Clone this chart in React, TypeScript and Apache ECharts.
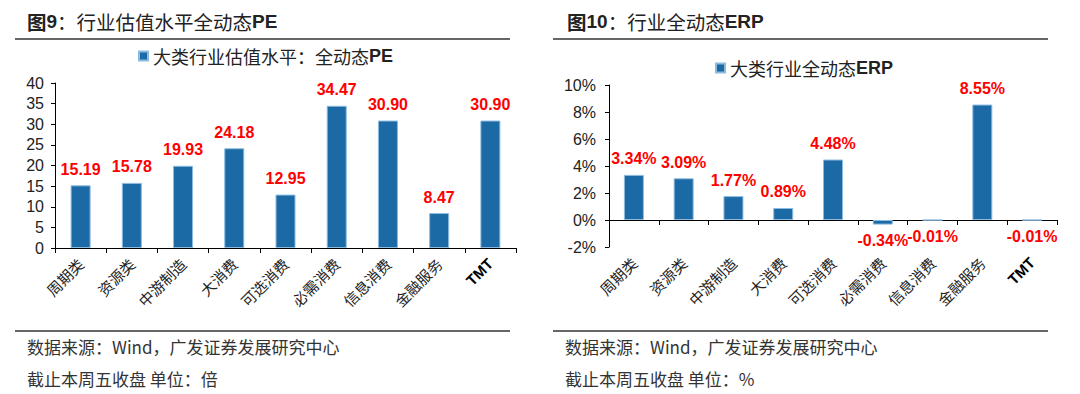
import React, { useEffect, useRef } from "react";
import * as echarts from "echarts";

const categories = ["周期类", "资源类", "中游制造", "大消费", "可选消费", "必需消费", "信息消费", "金融服务", "TMT"];
const peValues = [15.19, 15.78, 19.93, 24.18, 12.95, 34.47, 30.9, 8.47, 30.9];
const erpValues = [3.34, 3.09, 1.77, 0.89, 4.48, -0.34, -0.01, 8.55, -0.01];
const peAxis = { min: 0, max: 40, interval: 5 };
const erpAxis = { min: -2, max: 10, interval: 2 };
const peSeriesName = "大类行业估值水平：全动态PE";
const erpSeriesName = "大类行业全动态ERP";
const leftTitle = ["图9", "：行业估值水平全动态", "PE"];
const rightTitle = ["图10", "：行业全动态", "ERP"];
const sourceText = "数据来源：Wind，广发证券发展研究中心";
const leftUnit = "截止本周五收盘 单位：倍";
const rightUnit = "截止本周五收盘 单位：%";

const FONT = '"Liberation Sans", Arial, "Noto Sans CJK SC", sans-serif';
const CJK = '"Noto Sans CJK SC", "Liberation Sans", sans-serif';
const BAR = "#1b69a5";
const DARK = "#222222";

function splitLatin(s: string) {
  const m = s.match(/^(.*?)([A-Za-z]+)$/);
  if (!m) return `{n|${s}}`;
  return `{n|${m[1]}}{b|${m[2]}}`;
}

export default function App() {
  const ref = useRef<HTMLDivElement>(null);
  useEffect(() => {
    if (!ref.current) return;
    const chart = echarts.init(ref.current, undefined, { renderer: "svg" });

    const xAxisCommon = (gridIndex: number) => ({
      type: "category" as const,
      gridIndex,
      data: categories,
      axisLine: { onZero: true, lineStyle: { color: "#000", width: 1 } },
      axisTick: { show: true, length: 5, alignWithLabel: false, lineStyle: { color: "#000" } },
      axisLabel: {
        rotate: 45,
        interval: 0,
        margin: 13,
        fontSize: 15,
        color: DARK,
        fontFamily: CJK,
        formatter: (v: string) => (v === "TMT" ? "{b|TMT}" : `{n|${v}}`),
        rich: {
          n: { fontSize: 15, color: DARK, fontFamily: CJK },
          b: { fontSize: 15, color: "#000", fontWeight: "bold", fontFamily: FONT },
        },
      },
    });

    const yAxisCommon = (gridIndex: number, cfg: any, fmt: (v: number) => string, margin: number) => ({
      type: "value" as const,
      gridIndex,
      min: cfg.min,
      max: cfg.max,
      interval: cfg.interval,
      splitLine: { show: false },
      axisLine: { show: true, lineStyle: { color: "#000", width: 1 } },
      axisTick: { show: true, length: 4, lineStyle: { color: "#000" } },
      axisLabel: { fontSize: 16, color: DARK, fontFamily: FONT, margin, formatter: fmt },
    });

    const legendRich = {
      n: { fontSize: 18, color: DARK, fontFamily: CJK },
      b: { fontSize: 18, color: DARK, fontFamily: FONT, fontWeight: "bold" },
    };

    const titleRich = {
      b: { fontSize: 19, color: DARK, fontFamily: FONT, fontWeight: "bold" },
      n: { fontSize: 19.5, color: DARK, fontFamily: CJK },
      c: { fontSize: 19.5, color: DARK, fontFamily: CJK, fontWeight: "bold" },
    };

    const titleText = (parts: string[]) =>
      `{c|${parts[0].slice(0, 1)}}{b|${parts[0].slice(1)}}{n|${parts[1]}}{b|${parts[2]}}`;

    const footerStyle = { fontSize: 17, fill: "#333", fontFamily: CJK };

    const lines = [
      [15, 39, 510, 39],
      [553, 39, 1048, 39],
      [15, 331, 510, 331],
      [553, 331, 1048, 331],
    ].map(([x1, y1, x2, y2]) => ({
      type: "line",
      shape: { x1, y1, x2, y2 },
      style: { stroke: "#333", lineWidth: 1.5 },
      silent: true,
    }));

    chart.setOption({
      animation: false,
      backgroundColor: "#ffffff",
      textStyle: { fontFamily: FONT },
      grid: [
        { left: 55, right: 564, top: 83, bottom: 146, containLabel: false },
        { left: 609, right: 23, top: 85, bottom: 147, containLabel: false },
      ],
      legend: [
        {
          data: [peSeriesName],
          left: 138,
          top: 47,
          padding: 0,
          itemWidth: 9,
          itemHeight: 9,
          icon: "rect",
          formatter: splitLatin,
          textStyle: { rich: legendRich },
        },
        {
          data: [erpSeriesName],
          left: 715,
          top: 59,
          padding: 0,
          itemWidth: 9,
          itemHeight: 9,
          icon: "rect",
          formatter: splitLatin,
          textStyle: { rich: legendRich },
        },
      ],
      xAxis: [xAxisCommon(0), xAxisCommon(1)],
      yAxis: [
        yAxisCommon(0, peAxis, (v) => String(v), 11),
        yAxisCommon(1, erpAxis, (v) => `${v}%`, 13),
      ],
      series: [
        {
          name: peSeriesName,
          type: "bar",
          xAxisIndex: 0,
          yAxisIndex: 0,
          barWidth: 20,
          data: peValues,
          itemStyle: { color: BAR, borderColor: "#8dbbe0", borderWidth: 1 },
          label: {
            show: true,
            position: "top",
            distance: 8,
            color: "#ff0000",
            fontSize: 16,
            fontWeight: "bold",
            fontFamily: FONT,
            formatter: (p: any) => Number(p.value).toFixed(2),
          },
        },
        {
          name: erpSeriesName,
          type: "bar",
          xAxisIndex: 1,
          yAxisIndex: 1,
          barWidth: 20,
          data: erpValues.map((v) => ({
            value: v,
            label: { position: v < 0 ? "bottom" : "top" },
          })),
          itemStyle: { color: BAR, borderColor: "#8dbbe0", borderWidth: 1 },
          label: {
            show: true,
            position: "top",
            distance: 8,
            color: "#ff0000",
            fontSize: 16,
            fontWeight: "bold",
            fontFamily: FONT,
            formatter: (p: any) => `${Number(p.value).toFixed(2)}%`,
          },
        },
      ],
      graphic: [
        ...lines,
        {
          type: "text",
          left: 27,
          top: 12,
          style: { text: titleText(leftTitle), rich: titleRich, fill: DARK },
        },
        {
          type: "text",
          left: 567,
          top: 12,
          style: { text: titleText(rightTitle), rich: titleRich, fill: DARK },
        },
        { type: "text", left: 27, top: 338, style: { text: sourceText, ...footerStyle } },
        { type: "text", left: 27, top: 370, style: { text: leftUnit, ...footerStyle } },
        { type: "text", left: 565, top: 338, style: { text: sourceText, ...footerStyle } },
        { type: "text", left: 565, top: 370, style: { text: rightUnit, ...footerStyle } },
      ],
    });

    return () => chart.dispose();
  }, []);

  return (
    <div
      ref={ref}
      style={{ position: "fixed", left: 0, top: 0, width: 1080, height: 394, background: "#fff" }}
    />
  );
}
